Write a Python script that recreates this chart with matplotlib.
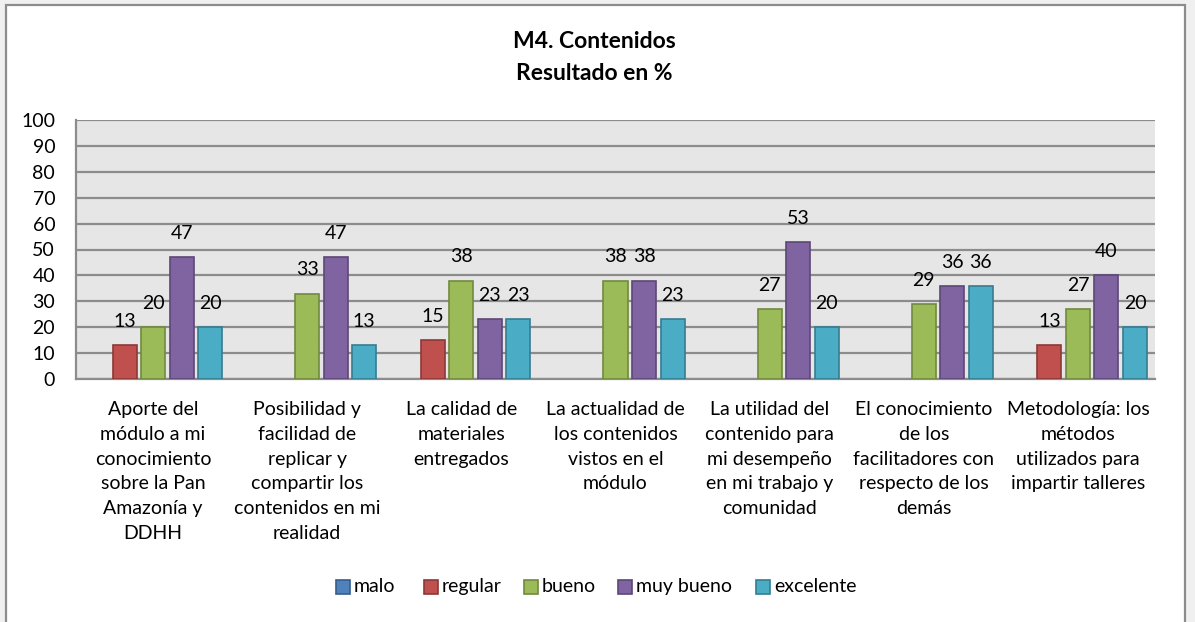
import numpy as np
import matplotlib
matplotlib.use("Agg")
import matplotlib.pyplot as plt
from matplotlib.patches import Rectangle

plt.rcParams['font.family'] = ['Lato', 'DejaVu Sans']

categories = [
    "Aporte del\nmódulo a mi\nconocimiento\nsobre la Pan\nAmazonía y\nDDHH",
    "Posibilidad y\nfacilidad de\nreplicar y\ncompartir los\ncontenidos en mi\nrealidad",
    "La calidad de\nmateriales\nentregados",
    "La actualidad de\nlos contenidos\nvistos en el\nmódulo",
    "La utilidad del\ncontenido para\nmi desempeño\nen mi trabajo y\ncomunidad",
    "El conocimiento\nde los\nfacilitadores con\nrespecto de los\ndemás",
    "Metodología: los\nmétodos\nutilizados para\nimpartir talleres",
]
series_names = ["malo", "regular", "bueno", "muy bueno", "excelente"]
malo = [0, 0, 0, 0, 0, 0, 0]
regular = [13, 0, 15, 0, 0, 0, 13]
bueno = [20, 33, 38, 38, 27, 29, 27]
muy_bueno = [47, 47, 23, 38, 53, 36, 40]
excelente = [20, 13, 23, 23, 20, 36, 20]
values = [malo, regular, bueno, muy_bueno, excelente]

colors = ["#4F81BD", "#C0504D", "#9BBB59", "#8064A2", "#4BACC6"]
edges = ["#385D8A", "#8C3836", "#71893F", "#5C4776", "#357D91"]

W, H = 1195, 622
fig = plt.figure(figsize=(W / 100, H / 100), dpi=100)
fig.patch.set_facecolor("#F0F0F0")
# outer chart frame
fig.patches.append(Rectangle((6.5 / W, -0.05), (1184.5 - 6.5) / W, 1 - 4.5 / H + 0.05,
                             transform=fig.transFigure, facecolor="white",
                             edgecolor="#8C8C8C", linewidth=1.6, zorder=-5))

ax = fig.add_axes([76 / W, 1 - 379 / H, (1155 - 76) / W, (379 - 120) / H])
ax.set_zorder(2)
ax.set_facecolor("#E6E6E6")

x = np.arange(len(categories))
step = 0.185
width = 0.156
for i, (name, vals) in enumerate(zip(series_names, values)):
    pos = x + (i - 2) * step
    lws = [1.2 if v > 0 else 0 for v in vals]
    bars = ax.bar(pos, vals, width, color=colors[i], edgecolor=edges[i],
                  linewidth=lws, zorder=3)
    for b, v in zip(bars, vals):
        if v > 0:
            ax.annotate(str(v), (b.get_x() + b.get_width() / 2, v),
                        xytext=(0, 17), textcoords="offset points",
                        ha="center", va="center", fontsize=14, zorder=4)

ax.set_ylim(0, 100)
ax.set_xlim(-0.5, len(categories) - 0.5)
ax.set_yticks(range(0, 101, 10))
ax.yaxis.grid(True, color="#8C8C8C", linewidth=1.6, zorder=1)
ax.set_axisbelow(True)
ax.tick_params(axis="y", length=0, pad=15, labelsize=14)
ax.tick_params(axis="x", length=0, pad=16, labelsize=14)
ax.set_xticks(x)
ax.set_xticklabels(categories, linespacing=1.55, va="top")
for s in ["top", "right"]:
    ax.spines[s].set_visible(False)
ax.spines["left"].set_color("#8C8C8C")
ax.spines["left"].set_linewidth(1.6)
ax.spines["bottom"].set_color("#8C8C8C")
ax.spines["bottom"].set_linewidth(1.6)

fig.text(0.497, 1 - 42 / H, "M4. Contenidos", ha="center", va="center",
         fontsize=16.5, fontweight="bold")
fig.text(0.497, 1 - 73 / H, "Resultado en %", ha="center", va="center",
         fontsize=16.5, fontweight="bold")

# legend drawn by hand so all labels share one baseline
leg_x = [336, 424, 524, 618, 756]
leg_y = 587
sq = 14
for i, name in enumerate(series_names):
    fig.patches.append(Rectangle((leg_x[i] / W, 1 - (leg_y + sq / 2) / H), sq / W, sq / H,
                                 transform=fig.transFigure, facecolor=colors[i],
                                 edgecolor=edges[i], linewidth=1.2, zorder=3))
    fig.text((leg_x[i] + sq + 4) / W, 1 - (leg_y + 5) / H, name, ha="left",
             va="baseline", fontsize=14)

fig.savefig("out.png", dpi=100, facecolor=fig.get_facecolor())
